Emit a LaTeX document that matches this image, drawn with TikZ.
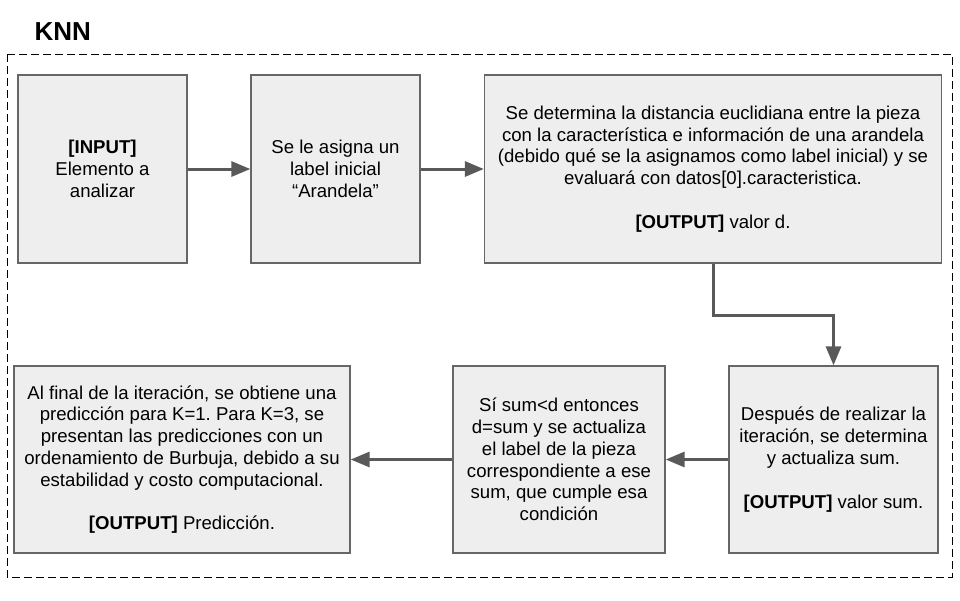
\documentclass[tikz,border=0pt]{standalone}
\usepackage{fontspec}
\setmainfont{Liberation Sans}
\usetikzlibrary{arrows.meta,calc}
\definecolor{boxfill}{HTML}{EEEEEE}
\definecolor{boxline}{HTML}{666666}
\definecolor{arrowc}{HTML}{595959}
\frenchspacing
\begin{document}
\begin{tikzpicture}[x=1pt,y=1pt,
  stepbox/.style={draw=boxline,line width=1.3pt,fill=boxfill,align=center,
    font=\fontsize{18.6}{21.8}\selectfont,inner sep=4pt},
  conn/.style={draw=arrowc,line width=3pt,-{Triangle[length=19pt,width=15pt]}}]
\useasboundingbox (0,0) rectangle (960,-600);
\node[anchor=base west,font=\fontsize{26}{30}\bfseries\selectfont] (title) at (31,-40) {KNN};
\draw[black,line width=1pt,dash pattern=on 8pt off 4pt] (7,-54) rectangle (952,-577);
\node[stepbox,minimum width=169pt,minimum height=188pt] (b1) at (102.5,-169) {\textbf{[INPUT]}\\Elemento a\\analizar};
\node[stepbox,minimum width=169pt,minimum height=188pt] (b2) at (335.5,-169) {Se le asigna un\\label inicial\\“Arandela”};
\node[stepbox,minimum width=457pt,minimum height=188pt] (b3) at (713,-169) {Se determina la distancia euclidiana entre la pieza\\con la característica e información de una arandela\\(debido qué se la asignamos como label inicial) y se\\evaluará con datos[0].caracteristica.\\[21.8pt]\textbf{[OUTPUT]} valor d.};
\node[stepbox,minimum width=209pt,minimum height=187pt] (b4) at (833.5,-459.5) {Después de realizar la\\iteración, se determina\\y actualiza sum.\\[21.8pt]\textbf{[OUTPUT]} valor sum.};
\node[stepbox,minimum width=212pt,minimum height=187pt] (b5) at (559,-459.5) {Sí sum<d entonces\\d=sum y se actualiza\\el label de la pieza\\correspondiente a ese\\sum, que cumple esa\\condición};
\node[stepbox,minimum width=336pt,minimum height=187pt] (b6) at (182,-459.5) {Al final de la iteración, se obtiene una\\predicción para K=1. Para K=3, se\\presentan las predicciones con un\\ordenamiento de Burbuja, debido a su\\estabilidad y costo computacional.\\[21.8pt]\textbf{[OUTPUT]} Predicción.};
\draw[conn] (b1.east) -- (b2.west);
\draw[conn] (b2.east) -- (b3.west);
\draw[conn] (b3.south) -- ++(0,-52) -| (b4.north);
\draw[conn] (b4.west) -- (b5.east);
\draw[conn] (b5.west) -- (b6.east);
\end{tikzpicture}
\end{document}
